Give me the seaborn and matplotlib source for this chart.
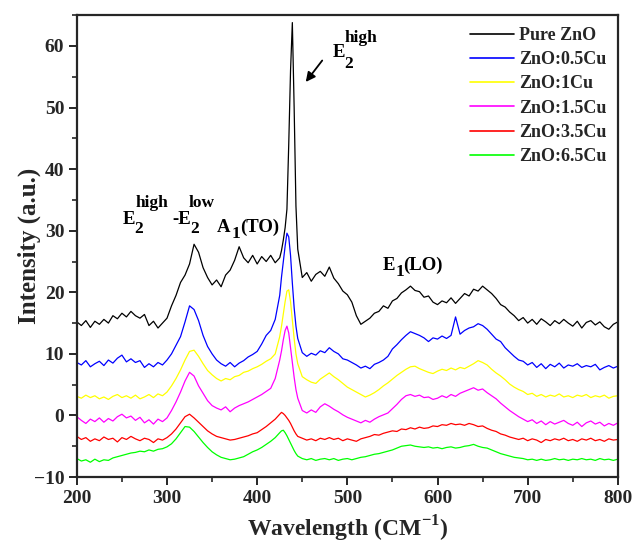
import numpy as np
import pandas as pd
import matplotlib
matplotlib.use("Agg")
import matplotlib.pyplot as plt
from matplotlib.ticker import MultipleLocator
from matplotlib.lines import Line2D
import seaborn as sns

# ---------------- data ----------------
wavenumber = ([200 + 5 * i for i in range(46)]                     # 200..425
              + [427, 429, 431, 433, 435, 437, 439, 441, 443, 445]
              + [450 + 5 * i for i in range(71)])                   # 450..800

pure_zno = [15.2, 14.6, 15.4, 14.3, 15.3, 14.8, 15.6, 15.0, 16.2, 15.7,
            16.6, 16.0, 16.9, 16.2, 15.8, 16.4, 14.6, 15.3, 14.2, 15.0,
            15.8, 17.8, 19.5, 21.6, 22.8, 24.6, 27.8, 26.5, 24.0, 22.4,
            21.2, 22.0, 20.9, 22.8, 23.6, 25.2, 27.4, 25.6, 24.8, 26.0,
            24.6, 25.8, 25.0, 26.0, 24.8, 25.6,
            26.8, 28.5, 30.5, 33.5, 44.0, 56.0, 63.8, 50.0, 34.0, 27.0,
            22.4, 23.2, 21.8, 22.9, 23.4, 22.6, 24.1, 22.3, 21.4, 20.2,
            19.6, 18.4, 16.2, 14.8, 15.3, 15.8, 16.6, 16.9, 17.8, 17.4,
            18.6, 19.0, 19.9, 20.4, 21.0, 20.3, 20.1, 19.2, 19.4, 18.4,
            18.0, 18.6, 18.3, 19.1, 18.2, 19.0, 19.8, 19.4, 20.5, 20.2,
            21.0, 20.4, 19.8, 19.0, 18.0, 17.6, 16.8, 16.2, 15.4, 15.9,
            15.0, 15.6, 14.8, 15.7, 15.2, 14.6, 15.4, 14.9, 15.6, 15.0,
            14.5, 15.3, 14.2, 15.1, 15.4, 14.7, 15.2, 14.4, 14.0, 14.8,
            15.2]

cu_05 = [8.6, 8.2, 8.9, 7.9, 8.4, 8.8, 8.1, 9.0, 8.5, 9.3,
         9.8, 8.7, 9.2, 8.6, 8.9, 7.8, 8.4, 7.9, 8.6, 8.2,
         9.0, 10.0, 11.4, 12.8, 15.2, 17.8, 17.2, 15.4, 13.0, 11.2,
         10.0, 9.0, 8.4, 8.0, 8.6, 7.9, 8.5, 8.9, 9.5, 9.9,
         10.4, 11.6, 13.0, 13.8, 15.6, 19.5,
         22.5, 25.0, 27.5, 29.6, 29.0, 26.0, 21.5, 17.5, 14.5, 12.5,
         10.2, 9.6, 10.1, 9.8, 10.5, 10.2, 11.0, 10.4, 10.0, 9.2,
         9.0, 8.6, 8.2, 7.7, 8.0, 7.6, 8.3, 8.6, 9.0, 9.6,
         10.8, 11.5, 12.3, 13.0, 13.6, 13.3, 13.0, 12.6, 12.0, 12.6,
         12.4, 12.9, 12.5, 13.0, 16.0, 13.2, 13.8, 14.2, 14.4, 14.9,
         14.6, 14.0, 13.2, 12.4, 12.0, 11.0, 10.3, 9.6, 9.0, 8.8,
         8.2, 8.6, 7.8, 8.4, 7.6, 8.3, 7.9, 8.5, 7.7, 8.2,
         8.0, 8.4, 7.8, 8.1, 7.9, 8.3, 7.4, 7.8, 8.1, 7.7,
         8.0]

cu_1 = [3.1, 2.8, 3.3, 2.9, 3.2, 2.7, 3.0, 2.6, 3.1, 3.4,
        2.9, 3.2, 2.8, 3.3, 2.7, 3.0, 3.4, 2.9, 3.5, 3.2,
        3.8, 4.8, 6.0, 7.4, 9.0, 10.4, 10.6, 9.6, 8.4, 7.3,
        6.6, 6.0, 5.6, 6.0, 5.8, 6.3, 6.5, 7.0, 7.2, 7.6,
        7.9, 8.3, 8.8, 9.2, 10.0, 12.8,
        14.5, 16.5, 18.5, 20.2, 20.4, 18.5, 15.5, 12.5, 10.0, 8.4,
        6.3, 5.8, 5.4, 5.2, 5.9, 6.4, 6.9, 6.3, 5.8, 5.2,
        4.6, 4.2, 3.8, 3.4, 3.0, 3.3, 3.7, 4.2, 4.8, 5.3,
        5.9, 6.5, 7.0, 7.5, 7.9, 8.0, 7.6, 7.3, 7.0, 6.8,
        7.2, 7.5, 7.3, 7.7, 7.4, 7.8, 7.6, 8.0, 8.4, 8.9,
        8.6, 8.2, 7.5, 6.9, 6.4, 5.8, 5.1, 4.6, 4.2, 3.9,
        3.4, 3.6, 3.1, 3.4, 3.0, 3.3, 3.1, 3.5, 3.0, 3.2,
        2.9, 3.3, 3.1, 3.4, 2.9, 3.2, 3.0, 3.3, 2.8, 3.1,
        3.2]

cu_15 = [-0.2, -0.8, -1.3, -0.6, -1.0, -0.4, -1.1, -0.5, -0.9, -0.2,
         0.2, -0.4, -0.1, -0.8, -0.3, -1.2, -0.7, -1.4, -0.6, -1.0,
         -0.4, 0.8, 2.2, 3.8, 5.6, 7.0, 6.4, 4.8, 3.6, 2.4,
         1.6, 1.2, 0.9, 1.4, 0.6, 1.2, 1.6, 1.9, 2.2, 2.6,
         3.0, 3.4, 3.9, 4.4, 6.0, 9.0,
         10.5, 12.3, 13.8, 14.5, 13.4, 11.0, 8.6, 6.2, 4.2, 2.8,
         0.8, 0.4, 0.9, 0.5, 1.4, 1.9, 1.5, 1.0, 0.6, 0.1,
         -0.3, -0.6, -0.9, -1.2, -0.8, -1.1, -0.6, -0.2, 0.1, 0.4,
         1.1, 1.8, 2.6, 3.2, 3.4, 3.1, 3.3, 2.9, 3.0, 2.6,
         2.8, 3.2, 2.9, 3.4, 3.1, 3.6, 3.9, 4.2, 4.5, 4.1,
         4.3, 3.7, 3.2, 2.7, 2.0, 1.4, 0.8, 0.3, -0.2, -0.6,
         -1.0, -0.7, -1.3, -0.9, -1.5, -1.0, -1.4, -1.1, -0.8, -1.3,
         -1.6, -1.1, -1.8, -1.2, -0.9, -1.4, -1.1, -1.7, -1.3, -1.6,
         -1.2]

cu_35 = [-3.4, -3.9, -3.6, -4.2, -3.8, -4.1, -3.5, -3.9, -3.7, -4.3,
         -3.6, -3.9, -3.4, -3.8, -4.1, -3.7, -3.9, -4.4, -3.8, -4.0,
         -3.6, -3.0, -2.2, -1.2, -0.2, 0.2, -0.4, -1.1, -1.8, -2.5,
         -3.0, -3.4, -3.6, -3.8, -4.0, -3.9, -3.7, -3.5, -3.3, -3.0,
         -2.8, -2.3, -1.8, -1.2, -0.6, 0.2,
         0.5, 0.3, 0.0, -0.4, -0.8, -1.3, -1.9, -2.5, -3.0, -3.4,
         -3.7, -4.0, -3.8, -4.1, -3.7, -3.9, -3.6, -3.9, -3.7, -4.1,
         -3.8, -4.0, -4.2, -3.8, -3.6, -3.4, -3.1, -3.2, -2.9, -2.7,
         -2.5, -2.6, -2.2, -2.3, -2.0, -2.2, -1.9, -2.1, -2.0, -1.7,
         -1.8, -1.5, -1.6, -1.3, -1.5, -1.4, -1.6, -1.3, -1.5, -1.8,
         -1.7, -2.1, -2.4, -2.6, -3.0, -3.2, -3.5, -3.7, -3.9, -3.7,
         -4.1, -3.8, -4.0, -4.4, -3.9, -4.1, -3.8, -4.0, -3.7, -4.1,
         -3.9, -4.2, -3.8, -4.0, -3.7, -4.1, -3.9, -4.2, -3.8, -4.0,
         -3.9]

cu_65 = [-7.0, -7.4, -7.2, -7.6, -7.1, -7.5, -7.2, -7.3, -6.9, -6.7,
         -6.5, -6.3, -6.1, -6.0, -5.8, -5.9, -5.6, -5.8, -5.5, -5.4,
         -5.1, -4.6, -3.8, -2.8, -1.8, -1.9, -2.6, -3.5, -4.4, -5.2,
         -5.9, -6.4, -6.8, -7.0, -7.2, -7.1, -6.9, -6.7, -6.3, -5.9,
         -5.6, -5.2, -4.7, -4.2, -3.6, -2.8,
         -2.5, -2.4, -2.8, -3.3, -3.9, -4.5, -5.1, -5.7, -6.2, -6.6,
         -7.0, -7.2, -7.0, -7.3, -7.1, -7.0, -7.2, -7.0, -7.3, -7.1,
         -7.0, -7.2, -7.0, -6.8, -6.7, -6.5, -6.3, -6.2, -6.0, -5.8,
         -5.6, -5.3, -5.0, -4.9, -4.8, -5.0, -5.1, -5.2, -5.1, -5.3,
         -5.2, -5.4, -5.2, -5.1, -5.3, -5.2, -5.0, -4.9, -4.7, -5.0,
         -5.2, -5.3, -5.6, -5.9, -6.2, -6.4, -6.6, -6.8, -6.9, -7.0,
         -7.2, -7.1, -7.3, -7.1, -7.3, -7.2, -7.0, -7.2, -7.1, -7.3,
         -7.1, -7.2, -7.0, -7.2, -7.1, -7.3, -7.0, -7.2, -7.1, -7.3,
         -7.1]

series_names = ["Pure ZnO", "ZnO:0.5Cu", "ZnO:1Cu", "ZnO:1.5Cu", "ZnO:3.5Cu", "ZnO:6.5Cu"]
series_values = [pure_zno, cu_05, cu_1, cu_15, cu_35, cu_65]
series_colors = ["#000000", "#0000ff", "#ffff00", "#ff00ff", "#ff0000", "#00ff00"]

x_ticks = [200, 300, 400, 500, 600, 700, 800]
y_ticks = [-10, 0, 10, 20, 30, 40, 50, 60]

for v in series_values:
    assert len(v) == len(wavenumber), len(v)

frames = [pd.DataFrame({"Wavenumber": wavenumber, "Intensity": vals, "Sample": name})
          for name, vals in zip(series_names, series_values)]
df = pd.concat(frames, ignore_index=True)

# ---------------- style ----------------
sns.set_style("ticks")
plt.rcParams["font.family"] = ["Liberation Serif", "DejaVu Serif"]
plt.rcParams["font.weight"] = "bold"
plt.rcParams["axes.labelweight"] = "bold"
plt.rcParams["mathtext.fontset"] = "custom"
plt.rcParams["mathtext.rm"] = "Liberation Serif:bold"
plt.rcParams["mathtext.bf"] = "Liberation Serif:bold"

fig = plt.figure(figsize=(6.35, 5.43), dpi=100)
ax = fig.add_axes([0.121, 0.1215, 0.973 - 0.121, 0.972 - 0.1215])

sns.lineplot(data=df, x="Wavenumber", y="Intensity", hue="Sample",
             hue_order=series_names, palette=series_colors,
             estimator=None, sort=False, linewidth=0.9, ax=ax, legend=False)

ax.set_xlim(200, 800)
ax.set_ylim(-10, 65)
ax.set_xticks(x_ticks)
ax.set_yticks(y_ticks)
ax.xaxis.set_minor_locator(MultipleLocator(50))
ax.yaxis.set_minor_locator(MultipleLocator(5))
ax.tick_params(which="major", direction="out", length=6, width=1.4,
               labelsize=14, pad=3, top=False, right=False)
ax.tick_params(which="minor", direction="out", length=3.5, width=1.2,
               top=False, right=False)
for lab in ax.get_xticklabels() + ax.get_yticklabels():
    lab.set_fontweight("bold")
for sp in ax.spines.values():
    sp.set_linewidth(1.6)
    sp.set_visible(True)

ax.set_xlabel(r"Wavelength (CM$^{\mathbf{-1}}$)", fontsize=17, fontweight="bold", labelpad=5)
ax.set_ylabel("Intensity (a.u.)", fontsize=18, fontweight="bold", labelpad=-5)

# legend
handles = [Line2D([], [], color=c, lw=1.2) for c in series_colors]
leg = ax.legend(handles, series_names, loc="upper right", bbox_to_anchor=(1.0, 1.0),
                frameon=False, fontsize=13, handlelength=2.4, handletextpad=0.28,
                labelspacing=0.4, borderaxespad=0.0, borderpad=0.65)
for t in leg.get_texts():
    t.set_fontweight("bold")

# annotations (piece by piece, Origin-style sub/superscripts)
def label(pieces):
    for txt, x, y, size in pieces:
        ax.text(x, y, txt, fontsize=size, fontweight="bold", color="black",
                ha="left", va="baseline")

label([("E", 251.0, 31.1, 13.5), ("2", 264.0, 29.6, 12.5), ("high", 264.8, 33.9, 12.5),
       ("-E", 306.0, 31.1, 13.5), ("2", 326.3, 29.6, 12.5), ("low", 323.8, 33.9, 12.5)])
label([("A", 355.6, 29.8, 13.5), ("1", 371.2, 28.8, 12.5), ("(TO)", 381.0, 29.8, 13.5)])
label([("E", 539.0, 23.6, 13.5), ("1", 553.0, 22.6, 12.5), ("(LO)", 562.0, 23.6, 13.5)])
label([("E", 483.3, 58.2, 13.5), ("2", 496.5, 56.5, 12.5), ("high", 496.5, 60.6, 12.5)])

ax.annotate("", xy=(452, 53.8), xytext=(474, 58.0),
            arrowprops=dict(arrowstyle="-|>", color="black", lw=1.3, mutation_scale=14))

fig.savefig("out.png", dpi=100, facecolor="white")
